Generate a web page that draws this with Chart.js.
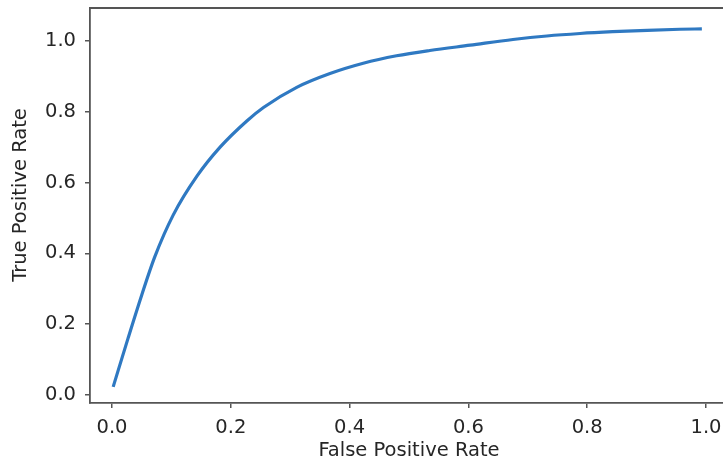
<!DOCTYPE html>
<html><head><meta charset="utf-8">
<script src="https://cdn.jsdelivr.net/npm/chart.js@4/dist/chart.umd.min.js"></script>
<style>
html,body{margin:0;padding:0;background:#fff;overflow:hidden}
#wrap{width:723px;height:463px;overflow:hidden;position:relative;background:#fff}
canvas{display:block}
</style></head>
<body><div id="wrap"><canvas id="c" width="760" height="463"></canvas></div>
<script>
const fprValues = [0.002, 0.027, 0.050, 0.072, 0.103, 0.143, 0.182, 0.227, 0.255, 0.311, 0.367, 0.423, 0.479, 0.535, 0.603, 0.675, 0.732, 0.788, 0.843, 0.901, 0.956, 0.993];
const tprValues = [0.023, 0.160, 0.282, 0.390, 0.508, 0.618, 0.700, 0.774, 0.812, 0.869, 0.908, 0.937, 0.958, 0.973, 0.988, 1.004, 1.014, 1.021, 1.026, 1.030, 1.033, 1.034];
const xTickValues = [0.0, 0.2, 0.4, 0.6, 0.8, 1.0];
const yTickValues = [0.0, 0.2, 0.4, 0.6, 0.8, 1.0];
const xAxisTitle = 'False Positive Rate';
const yAxisTitle = 'True Positive Rate';

const FONT = "'DejaVu Sans', sans-serif";
const TEXT = '#262626';
const SPINE = '#555555';

const points = fprValues.map((x, i) => ({x: x, y: tprValues[i]}));

const frame = {
  id: 'frame',
  afterDraw(chart) {
    const a = chart.chartArea, ctx = chart.ctx;
    ctx.save();
    ctx.strokeStyle = SPINE;
    ctx.lineWidth = 1.8;
    ctx.beginPath();
    ctx.moveTo(a.left - 0.9, a.top);
    ctx.lineTo(a.right, a.top);
    ctx.lineTo(a.right, a.bottom);
    ctx.stroke();
    ctx.fillStyle = TEXT;
    ctx.font = "19.5px " + FONT;
    ctx.textAlign = 'center';
    ctx.textBaseline = 'middle';
    ctx.translate(21, 195);
    ctx.rotate(-Math.PI / 2);
    ctx.fillText(yAxisTitle, 0, 0);
    ctx.restore();
  }
};

new Chart(document.getElementById('c'), {
  type: 'line',
  data: {
    datasets: [{
      data: points,
      borderColor: '#2f79c2',
      borderWidth: 3.2,
      pointRadius: 0,
      fill: false,
      cubicInterpolationMode: 'monotone'
    }]
  },
  options: {
    responsive: false,
    animation: false,
    events: [],
    layout: {padding: {left: 0, top: 8, right: 32, bottom: 0}},
    plugins: {legend: {display: false}, tooltip: {enabled: false}},
    scales: {
      x: {
        type: 'linear',
        min: -0.037,
        max: 1.037,
        afterFit(s) { s.height = 60; s.paddingLeft = 0; s.paddingRight = 0; },
        afterBuildTicks(s) { s.ticks = xTickValues.map(v => ({value: v})); },
        border: {display: true, color: SPINE, width: 1.8},
        grid: {display: true, drawOnChartArea: false, drawTicks: true, tickLength: 5, color: SPINE, lineWidth: 1.5},
        ticks: {
          color: TEXT, padding: 8, maxRotation: 0, autoSkip: false,
          font: {family: FONT, size: 19.5},
          callback: v => Number(v).toFixed(1)
        },
        title: {display: true, text: xAxisTitle, color: TEXT, font: {family: FONT, size: 19.5}, padding: {top: 0, bottom: 0}}
      },
      y: {
        type: 'linear',
        min: -0.0226,
        max: 1.093,
        afterFit(s) { s.width = 90; s.paddingTop = 0; s.paddingBottom = 0; },
        afterBuildTicks(s) { s.ticks = yTickValues.map(v => ({value: v})); },
        border: {display: true, color: SPINE, width: 1.8},
        grid: {display: true, drawOnChartArea: false, drawTicks: true, tickLength: 5, color: SPINE, lineWidth: 1.5},
        ticks: {
          color: TEXT, padding: 9, autoSkip: false,
          font: {family: FONT, size: 19.5},
          callback: v => Number(v).toFixed(1)
        },
        title: {display: false}
      }
    }
  },
  plugins: [frame]
});
</script>
</body></html>
